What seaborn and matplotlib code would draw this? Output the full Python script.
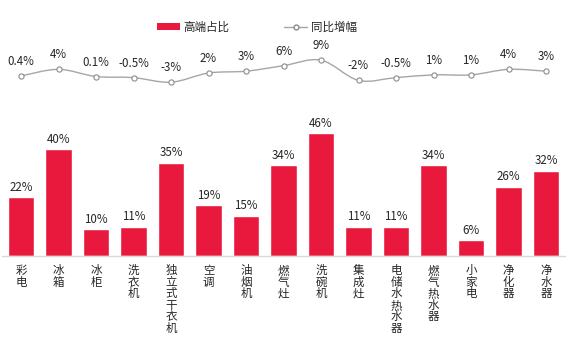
import matplotlib
matplotlib.use("Agg")
import matplotlib.pyplot as plt
import seaborn as sns
import pandas as pd
import numpy as np
from matplotlib.path import Path
from matplotlib.patches import PathPatch, Patch
from matplotlib.lines import Line2D

sns.set_style("white")
plt.rcParams["font.family"] = ["Noto Sans CJK SC", "DejaVu Sans"]

categories = ["彩电", "冰箱", "冰柜", "洗衣机", "独立式干衣机", "空调", "油烟机", "燃气灶",
              "洗碗机", "集成灶", "电储水热水器", "燃气热水器", "小家电", "净化器", "净水器"]
high_end_share = [22, 40, 10, 11, 35, 19, 15, 34, 46, 11, 11, 34, 6, 26, 32]
yoy_growth = [0.4, 4, 0.1, -0.5, -3, 2, 3, 6, 9, -2, -0.5, 1, 1, 4, 3]
growth_labels = ["0.4%", "4%", "0.1%", "-0.5%", "-3%", "2%", "3%", "6%", "9%",
                 "-2%", "-0.5%", "1%", "1%", "4%", "3%"]

df = pd.DataFrame({"cat": categories, "share": high_end_share, "growth": yoy_growth})
df["x"] = np.arange(len(df))

BAR = "#e8193c"
LINE = "#a6a6a6"
TXT = "#262626"
FS = 8.3

fig = plt.figure(figsize=(5.77, 3.41), dpi=100)
W, H = 577, 341

def fig_rect(x0, y0, x1, y1):
    return [x0 / W, 1 - y1 / H, (x1 - x0) / W, (y1 - y0) / H]

# Bars: share of high-end products
ax_bar = fig.add_axes(fig_rect(2.25, 122.5, 564.75, 256))
sns.barplot(data=df, x="x", y="share", color=BAR, width=0.7, saturation=1, ax=ax_bar)
ax_bar.set_xlim(-0.5, len(df) - 0.5)
ax_bar.set_ylim(0, 50)
for i, v in enumerate(high_end_share):
    ax_bar.text(i, v + 1.3, f"{v}%", ha="center", va="bottom", fontsize=FS, color=TXT)
ax_bar.axhline(0, color="#d9d9d9", lw=1.0, clip_on=False)
sns.despine(ax=ax_bar, left=True, bottom=True)
ax_bar.set_yticks([])
ax_bar.set_xticks(df["x"])
ax_bar.set_xticklabels(["\n".join(c) for c in categories], fontsize=FS,
                       color=TXT, linespacing=0.85, va="top")
ax_bar.tick_params(axis="x", length=0, pad=6)
ax_bar.set_xlabel("")
ax_bar.set_ylabel("")

# Line: year-on-year growth, smoothed through the points
ax_line = fig.add_axes(fig_rect(2.25, 40, 564.75, 100))
ax_line.set_xlim(-0.5, len(df) - 0.5)
ax_line.set_ylim(-12.7, 20)
xs = df["x"].to_numpy(dtype=float)
ys = df["growth"].to_numpy(dtype=float)
verts = [(xs[0], ys[0])]
codes = [Path.MOVETO]
n = len(xs)
for i in range(n - 1):
    p0 = np.array([xs[max(i - 1, 0)], ys[max(i - 1, 0)]])
    p1 = np.array([xs[i], ys[i]])
    p2 = np.array([xs[i + 1], ys[i + 1]])
    p3 = np.array([xs[min(i + 2, n - 1)], ys[min(i + 2, n - 1)]])
    c1 = p1 + (p2 - p0) / 6
    c2 = p2 - (p3 - p1) / 6
    verts += [tuple(c1), tuple(c2), tuple(p2)]
    codes += [Path.CURVE4] * 3
ax_line.add_patch(PathPatch(Path(verts, codes), fill=False, edgecolor=LINE, lw=1.0))
sns.scatterplot(data=df, x="x", y="growth", ax=ax_line, marker="o", s=14,
                facecolor="white", edgecolor="#8c8c8c", linewidth=0.8, zorder=3)
for i, (v, lab) in enumerate(zip(yoy_growth, growth_labels)):
    ax_line.text(i, v + 4.3, lab, ha="center", va="bottom", fontsize=FS, color=TXT)
ax_line.axis("off")

# Legend
handles = [Patch(facecolor=BAR, edgecolor="none"),
           Line2D([0], [0], color=LINE, lw=1.0, marker="o", markersize=3.5,
                  markerfacecolor="white", markeredgecolor="#8c8c8c")]
fig.legend(handles, ["高端占比", "同比增幅"], loc="center", bbox_to_anchor=(0.445, 1 - 27 / H),
           ncol=2, frameon=False, fontsize=FS, handlelength=2.0, handleheight=0.55,
           columnspacing=4.8, handletextpad=0.3)

fig.savefig("out.png", dpi=100)
